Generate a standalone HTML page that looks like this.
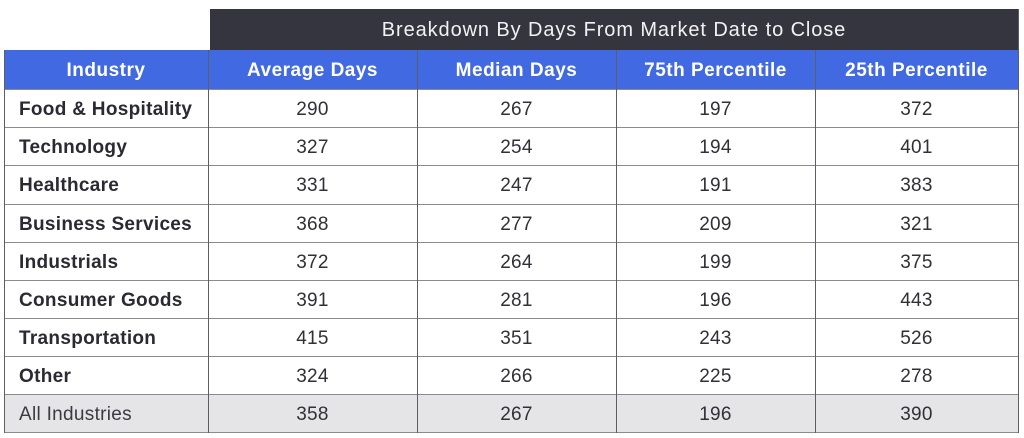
<!DOCTYPE html>
<html><head><meta charset="utf-8">
<style>
html,body{margin:0;padding:0;background:#fff;}
body{width:1024px;height:438px;position:relative;overflow:hidden;font-family:"Liberation Sans",Arial,sans-serif;}
.abs{position:absolute;}
.title{left:210px;top:9px;width:808px;height:41px;background:#34353f;color:#f2f2f4;font-size:20px;letter-spacing:0.9px;line-height:43px;text-align:center;}
.hdr{top:50px;height:39px;background:#4169e1;}
.cell{position:absolute;display:flex;align-items:center;justify-content:center;font-size:19px;color:#303038;letter-spacing:0.3px;padding-top:3px;box-sizing:border-box;}
.h{color:#fff;font-weight:bold;letter-spacing:0.5px;}
.lab{justify-content:flex-start;padding-left:15px;font-weight:bold;color:#2a2a33;}
.vl{position:absolute;width:1.5px;background:#5d5d68;}
.hl{position:absolute;height:1.5px;background:#8a8a92;}
</style></head><body>
<div class="abs title">Breakdown By Days From Market Date to Close</div>
<div class="abs hdr" style="left:4px;width:1014px;"></div>
<div class="abs" style="left:4px;top:394px;width:1014px;height:38px;background:#e5e5e7;"></div>

<div class="cell h" style="left:4px;width:204px;top:50px;height:39px;">Industry</div>
<div class="cell h" style="left:208px;width:209px;top:50px;height:39px;">Average Days</div>
<div class="cell h" style="left:417px;width:199px;top:50px;height:39px;">Median Days</div>
<div class="cell h" style="left:616px;width:199px;top:50px;height:39px;">75th Percentile</div>
<div class="cell h" style="left:815px;width:203px;top:50px;height:39px;">25th Percentile</div>

<div class="cell lab" style="left:4px;width:204px;top:89px;height:38px;">Food &amp; Hospitality</div>
<div class="cell" style="left:208px;width:209px;top:89px;height:38px;">290</div>
<div class="cell" style="left:417px;width:199px;top:89px;height:38px;">267</div>
<div class="cell" style="left:616px;width:199px;top:89px;height:38px;">197</div>
<div class="cell" style="left:815px;width:203px;top:89px;height:38px;">372</div>

<div class="cell lab" style="left:4px;width:204px;top:127px;height:38px;">Technology</div>
<div class="cell" style="left:208px;width:209px;top:127px;height:38px;">327</div>
<div class="cell" style="left:417px;width:199px;top:127px;height:38px;">254</div>
<div class="cell" style="left:616px;width:199px;top:127px;height:38px;">194</div>
<div class="cell" style="left:815px;width:203px;top:127px;height:38px;">401</div>

<div class="cell lab" style="left:4px;width:204px;top:165px;height:39px;">Healthcare</div>
<div class="cell" style="left:208px;width:209px;top:165px;height:39px;">331</div>
<div class="cell" style="left:417px;width:199px;top:165px;height:39px;">247</div>
<div class="cell" style="left:616px;width:199px;top:165px;height:39px;">191</div>
<div class="cell" style="left:815px;width:203px;top:165px;height:39px;">383</div>

<div class="cell lab" style="left:4px;width:204px;top:204px;height:38px;">Business Services</div>
<div class="cell" style="left:208px;width:209px;top:204px;height:38px;">368</div>
<div class="cell" style="left:417px;width:199px;top:204px;height:38px;">277</div>
<div class="cell" style="left:616px;width:199px;top:204px;height:38px;">209</div>
<div class="cell" style="left:815px;width:203px;top:204px;height:38px;">321</div>

<div class="cell lab" style="left:4px;width:204px;top:242px;height:38px;">Industrials</div>
<div class="cell" style="left:208px;width:209px;top:242px;height:38px;">372</div>
<div class="cell" style="left:417px;width:199px;top:242px;height:38px;">264</div>
<div class="cell" style="left:616px;width:199px;top:242px;height:38px;">199</div>
<div class="cell" style="left:815px;width:203px;top:242px;height:38px;">375</div>

<div class="cell lab" style="left:4px;width:204px;top:280px;height:38px;">Consumer Goods</div>
<div class="cell" style="left:208px;width:209px;top:280px;height:38px;">391</div>
<div class="cell" style="left:417px;width:199px;top:280px;height:38px;">281</div>
<div class="cell" style="left:616px;width:199px;top:280px;height:38px;">196</div>
<div class="cell" style="left:815px;width:203px;top:280px;height:38px;">443</div>

<div class="cell lab" style="left:4px;width:204px;top:318px;height:38px;">Transportation</div>
<div class="cell" style="left:208px;width:209px;top:318px;height:38px;">415</div>
<div class="cell" style="left:417px;width:199px;top:318px;height:38px;">351</div>
<div class="cell" style="left:616px;width:199px;top:318px;height:38px;">243</div>
<div class="cell" style="left:815px;width:203px;top:318px;height:38px;">526</div>

<div class="cell lab" style="left:4px;width:204px;top:356px;height:38px;">Other</div>
<div class="cell" style="left:208px;width:209px;top:356px;height:38px;">324</div>
<div class="cell" style="left:417px;width:199px;top:356px;height:38px;">266</div>
<div class="cell" style="left:616px;width:199px;top:356px;height:38px;">225</div>
<div class="cell" style="left:815px;width:203px;top:356px;height:38px;">278</div>

<div class="cell lab" style="left:4px;width:204px;top:394px;height:38px;font-weight:normal;color:#3a3a42;">All Industries</div>
<div class="cell" style="left:208px;width:209px;top:394px;height:38px;">358</div>
<div class="cell" style="left:417px;width:199px;top:394px;height:38px;">267</div>
<div class="cell" style="left:616px;width:199px;top:394px;height:38px;">196</div>
<div class="cell" style="left:815px;width:203px;top:394px;height:38px;">390</div>

<div class="hl" style="left:4px;width:1015px;top:88.5px;"></div>
<div class="hl" style="left:4px;width:1015px;top:126.5px;"></div>
<div class="hl" style="left:4px;width:1015px;top:164.5px;"></div>
<div class="hl" style="left:4px;width:1015px;top:203.5px;"></div>
<div class="hl" style="left:4px;width:1015px;top:241.5px;"></div>
<div class="hl" style="left:4px;width:1015px;top:279.5px;"></div>
<div class="hl" style="left:4px;width:1015px;top:317.5px;"></div>
<div class="hl" style="left:4px;width:1015px;top:355.5px;"></div>
<div class="hl" style="left:4px;width:1015px;top:393.5px;"></div>
<div class="hl" style="left:4px;width:1015px;top:431.5px;"></div>

<div class="vl" style="left:3.5px;top:50px;height:383px;"></div>
<div class="vl" style="left:207.5px;top:50px;height:383px;"></div>
<div class="vl" style="left:416.5px;top:50px;height:383px;"></div>
<div class="vl" style="left:615.5px;top:50px;height:383px;"></div>
<div class="vl" style="left:814.5px;top:50px;height:383px;"></div>
<div class="vl" style="left:1017.5px;top:9px;height:424px;"></div>
</body></html>
